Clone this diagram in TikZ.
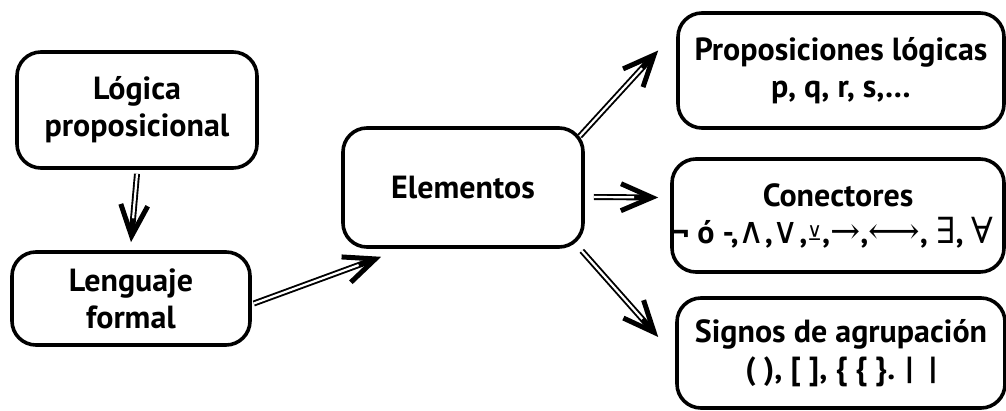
\documentclass[tikz,border=0pt]{standalone}
\usepackage{fontspec}
\setmainfont{PT Sans}
\newfontfamily\symfont{DejaVu Serif}
\newfontfamily\symsans{DejaVu Sans}
\usetikzlibrary{arrows.meta}
\tikzset{
  box/.style={draw, line width=3.6pt, rounded corners=24pt, align=center,
    inner sep=0pt, font=\bfseries\fontsize{32}{37}\selectfont},
  arrowline/.style={line width=6pt,
    -{Straight Barb[length=31pt,width=27pt,line width=5pt 0 1]}},
  arrowgap/.style={white, line width=2.2pt, shorten >=24pt},
}
% double-lined arrow with an open barb
\newcommand\dblarrow[2]{%
  \draw[arrowline] #1 -- #2;
  \draw[arrowgap] #1 -- #2;}
\newcommand\sy[1]{{\symfont\mdseries\fontsize{36}{34}\selectfont #1}}
\begin{document}
\begin{tikzpicture}[x=1pt,y=-1pt]
\useasboundingbox (0,0) rectangle (1006,411);

\node[box, minimum width=240pt, minimum height=116pt] (logica) at (137,110) {Lógica\\proposicional};
\node[box, minimum width=238pt, minimum height=93pt] (lenguaje) at (131,298.5) {Lenguaje\\formal};
\node[box, minimum width=240pt, minimum height=119pt] (elem) at (463,187.5) {Elementos};
\node[box, minimum width=326pt, minimum height=115pt] (prop) at (841,70.5) {Proposiciones lógicas\\p, q, r, s,…};
\node[box, minimum width=332pt, minimum height=113pt] (conec) at (838,215.5)
  {Conectores\\\makebox[0pt]{\kern-10pt¬ ó -,\sy{∧},\sy{∨},\raisebox{3pt}{\symsans\mdseries\fontsize{20}{20}\selectfont ⊻},\sy{→},\sy{⟷}, \sy{∃}, \sy{∀}}};
\node[box, minimum width=328pt, minimum height=110pt] (signos) at (841,353) {Signos de agrupación\\( ), [ ], \{ \{ \}. | \ |};

\dblarrow{([shift={(0,4)}]logica.south)}{([shift={(0,-8)}]lenguaje.north)}
\dblarrow{([shift={(2,5)}]lenguaje.east)}{([shift={(40,8)}]elem.south west)}
\dblarrow{([shift={(-5,10)}]elem.north east)}{([shift={(-18,-20)}]prop.west)}
\dblarrow{([shift={(9,9.5)}]elem.east)}{([shift={(-12,-18)}]conec.west)}
\dblarrow{([shift={(-3,2)}]elem.south east)}{([shift={(-17,-16)}]signos.west)}
\end{tikzpicture}
\end{document}
